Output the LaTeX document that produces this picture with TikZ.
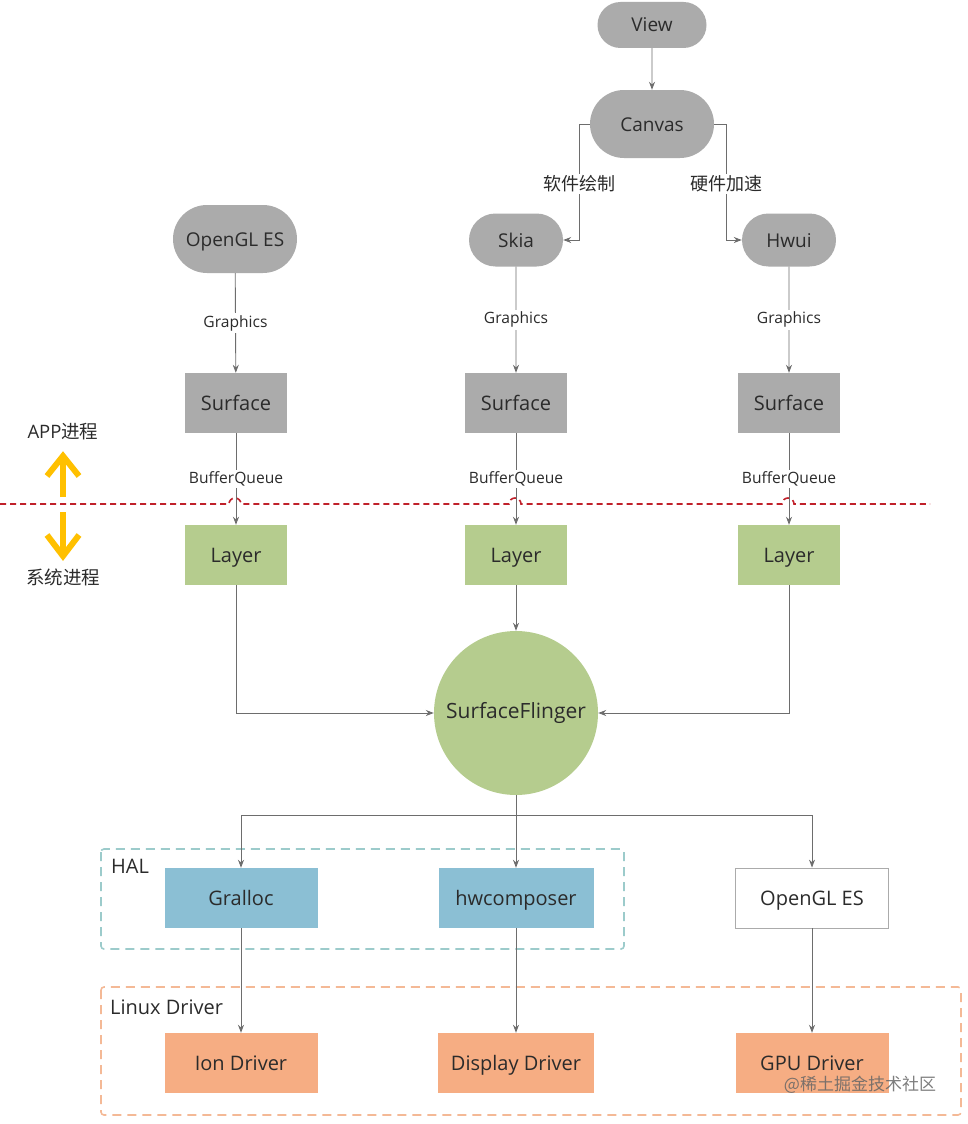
\documentclass[tikz,border=0pt]{standalone}
\usepackage{fontspec}
\setmainfont{Open Sans}
\newfontfamily\cjk{Noto Sans CJK SC}
\usetikzlibrary{arrows.meta,shapes.misc}
\definecolor{gnode}{HTML}{ABABAB}
\definecolor{grn}{HTML}{B5CC8E}
\definecolor{blu}{HTML}{8BBFD4}
\definecolor{org}{HTML}{F6AD83}
\definecolor{txt}{HTML}{2B2B2B}
\definecolor{lin}{HTML}{6D6D6D}
\definecolor{redd}{HTML}{C0202A}
\definecolor{yel}{HTML}{FFC000}
\definecolor{teal}{HTML}{9CCBCB}
\definecolor{peach}{HTML}{F4B996}
\begin{document}
\begin{tikzpicture}[x=1pt,y=-1pt,
  pill/.style={rounded rectangle, fill=gnode, text=txt, inner sep=0pt, text height=15pt, text depth=1pt, font=\fontsize{19}{22}\selectfont},
  box/.style={rectangle, inner sep=0pt, text=txt, minimum height=60, text height=16pt, text depth=1pt, font=\fontsize{20}{23}\selectfont},
  conn/.style={draw=lin, line width=0.9pt, -{Stealth[length=8pt,width=6pt]}},
  plain/.style={draw=lin, line width=0.9pt},
  lbl/.style={fill=white, text=txt, inner sep=2pt, font=\fontsize{15.6}{18}\selectfont},
  cjklbl/.style={fill=white, text=txt, inner sep=2pt, font=\cjk\fontsize{18}{21}\selectfont},
  side/.style={text=txt, inner sep=0pt, font=\fontsize{18.5}{21}\selectfont},
  yarrow/.style={draw=yel, line width=6pt},
  grp/.style={text=txt, inner sep=0pt, anchor=west, font=\fontsize{20}{23}\selectfont}]
\useasboundingbox (0,0) rectangle (967,1124);

% group boxes
\draw[teal, line width=1.6pt, dash pattern=on 9pt off 6pt, rounded corners=3pt] (101,849) rectangle (624,949);
\draw[peach, line width=1.6pt, dash pattern=on 9pt off 6pt, rounded corners=3pt] (101,987) rectangle (961,1115);
\node[grp] (hal) at (111,866) {HAL};
\node[grp] (linux) at (110,1007) {Linux Driver};

% top nodes
\node[pill, minimum width=109, minimum height=46] (view) at (652,25) {View};
\node[pill, minimum width=124, minimum height=68] (canvas) at (652,124) {Canvas};
\node[pill, minimum width=94, minimum height=53] (skia) at (516,240) {Skia};
\node[pill, minimum width=94, minimum height=53] (hwui) at (789,240) {Hwui};
\node[pill, minimum width=124, minimum height=68] (ogl1) at (235,239) {OpenGL ES};

% surfaces
\node[box, fill=gnode, minimum width=102] (surf1) at (236,403) {Surface};
\node[box, fill=gnode, minimum width=102] (surf2) at (516,403) {Surface};
\node[box, fill=gnode, minimum width=102] (surf3) at (789,403) {Surface};

% layers
\node[box, fill=grn, minimum width=102] (layer1) at (236,555) {Layer};
\node[box, fill=grn, minimum width=102] (layer2) at (516,555) {Layer};
\node[box, fill=grn, minimum width=102] (layer3) at (789,555) {Layer};

% surfaceflinger
\node[circle, fill=grn, text=txt, minimum size=164, inner sep=0pt, font=\fontsize{21}{24}\selectfont] (sf) at (516,713) {SurfaceFlinger};

% HAL
\node[box, fill=blu, minimum width=153] (gralloc) at (241,898) {Gralloc};
\node[box, fill=blu, minimum width=155] (hwc) at (516,898) {hwcomposer};
\node[box, fill=white, draw=gnode, line width=0.8pt, minimum width=153] (ogl2) at (812,898) {OpenGL ES};

% drivers
\node[box, fill=org, minimum width=153] (ion) at (241,1063) {Ion Driver};
\node[box, fill=org, minimum width=156] (disp) at (516,1063) {Display Driver};
\node[box, fill=org, minimum width=153] (gpu) at (812,1063) {GPU Driver};

% connectors top
\draw[conn] (view) -- (canvas);
\draw[conn] (canvas.west) -- (579,124) |- (skia.east);
\draw[conn] (canvas.east) -- (726,124) |- (hwui.west);
\node[cjklbl] (sw) at (579,184) {软件绘制};
\node[cjklbl] (hw) at (726,184) {硬件加速};

\draw[conn] (ogl1) -- (surf1) node[lbl, midway] {Graphics};
\draw[conn] (skia) -- (surf2) node[lbl, midway] {Graphics};
\draw[conn] (hwui) -- (surf3) node[lbl, midway] {Graphics};

% process divider
\draw[redd, line width=1.6pt, dash pattern=on 6pt off 4pt]
  (0,504) -- (229,504) arc (180:360:6) -- (509,504) arc (180:360:6) -- (782,504) arc (180:360:6) -- (930,504);

\draw[conn] (surf1) -- (layer1) node[lbl, midway] {BufferQueue};
\draw[conn] (surf2) -- (layer2) node[lbl, midway] {BufferQueue};
\draw[conn] (surf3) -- (layer3) node[lbl, midway] {BufferQueue};

\draw[conn] (layer1.south) |- (sf.west);
\draw[conn] (layer2) -- (sf);
\draw[conn] (layer3.south) |- (sf.east);

\draw[conn] (sf.south) -- ++(0,20) -| (gralloc.north);
\draw[conn] (sf.south) -- (hwc.north);
\draw[conn] (sf.south) -- ++(0,20) -| (ogl2.north);

\draw[conn] (gralloc) -- (ion);
\draw[conn] (hwc) -- (disp);
\draw[conn] (ogl2) -- (gpu);

% yellow arrows
\coordinate (upT) at (63,458);
\coordinate (dnT) at (63,554);
\draw[yarrow] (63,497) -- (upT);
\draw[yarrow, line join=miter] (47,476) -- ([yshift=2]upT) -- (79,476);
\draw[yarrow] (63,512) -- (dnT);
\draw[yarrow, line join=miter] (47,535) -- ([yshift=-2]dnT) -- (79,535);
\node[side] (app) at (63,432) {APP\cjk 进程};
\node[side, font=\cjk\fontsize{18.5}{21}\selectfont] (sys) at (63,577) {系统进程};

% watermark
\node[text=black!60, opacity=0.85, inner sep=0pt, font=\cjk\fontsize{17}{20}\selectfont] (wm) at (860,1085) {@稀土掘金技术社区};
\end{tikzpicture}
\end{document}
